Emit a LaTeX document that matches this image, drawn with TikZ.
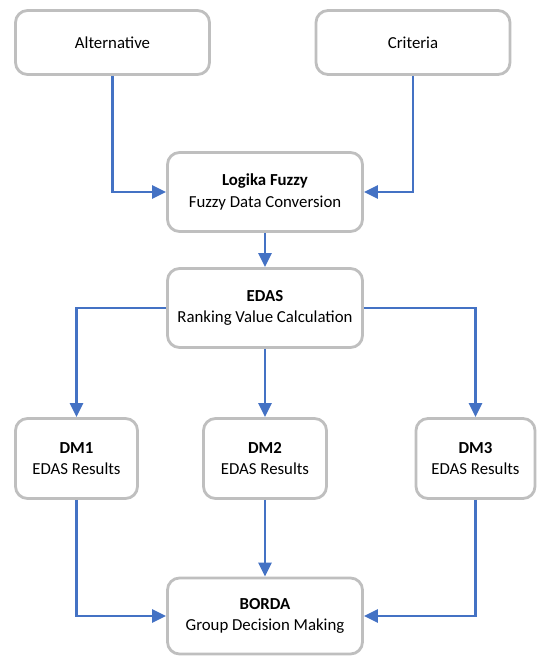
\documentclass[tikz,border=0pt]{standalone}
\usepackage{fontspec}
\setmainfont{Carlito}
\usetikzlibrary{arrows.meta}
\definecolor{boxgray}{HTML}{BFBFBF}
\definecolor{arrblue}{HTML}{4472C4}
\begin{document}
\begin{tikzpicture}[x=1pt,y=-1pt,
  box/.style={draw=boxgray, line width=2.8pt, rounded corners=12pt, fill=white, align=center, inner sep=0pt, font=\fontsize{16.8}{21.5}\selectfont},
  conn/.style={draw=arrblue, line width=2.8pt, -{Triangle[length=14pt,width=13pt]}}]
\useasboundingbox (0,0) rectangle (537,657);
\node[box, minimum width=194pt, minimum height=64pt] (alt) at (112.5,42.5) {Alternative};
\node[box, minimum width=194pt, minimum height=64pt] (cri) at (413,42.5) {Criteria};
\node[box, minimum width=195pt, minimum height=79pt] (fuz) at (265,192) {\textbf{Logika Fuzzy}\\Fuzzy Data Conversion};
\node[box, minimum width=195pt, minimum height=79pt] (edas) at (265,308) {\textbf{EDAS}\\Ranking Value Calculation};
\node[box, minimum width=122pt, minimum height=80pt] (dm1) at (76.5,458.5) {\textbf{DM1}\\EDAS Results};
\node[box, minimum width=123pt, minimum height=80pt] (dm2) at (265,458.5) {\textbf{DM2}\\EDAS Results};
\node[box, minimum width=119pt, minimum height=80pt] (dm3) at (475.5,458.5) {\textbf{DM3}\\EDAS Results};
\node[box, minimum width=195pt, minimum height=76pt] (bor) at (265,616) {\textbf{BORDA}\\Group Decision Making};
\draw[conn] (alt.south) |- (fuz.west);
\draw[conn] (cri.south) |- (fuz.east);
\draw[conn] (fuz.south) -- (edas.north);
\draw[conn] (edas.west) -| (dm1.north);
\draw[conn] (edas.south) -- (dm2.north);
\draw[conn] (edas.east) -| (dm3.north);
\draw[conn] (dm1.south) |- (bor.west);
\draw[conn] (dm2.south) -- (bor.north);
\draw[conn] (dm3.south) |- (bor.east);
\end{tikzpicture}
\end{document}
